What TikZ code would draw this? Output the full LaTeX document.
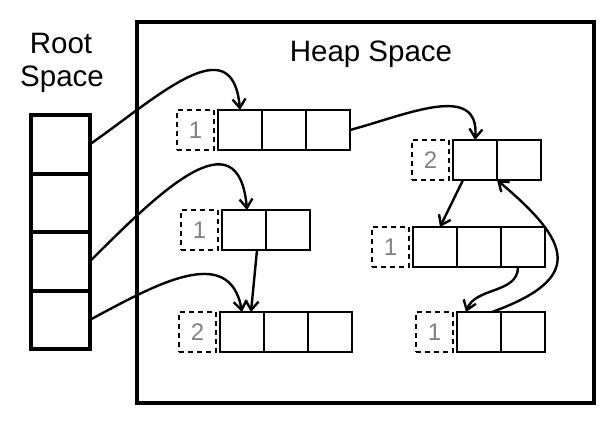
\documentclass[tikz,border=0pt]{standalone}
\usepackage{fontspec}
\setmainfont{Liberation Sans}
\usetikzlibrary{arrows.meta,positioning}
\definecolor{countgray}{RGB}{128,128,128}
\tikzset{
  heapbox/.style={rectangle, draw, line width=4pt, minimum width=457pt, minimum height=381pt,
                  inner sep=0pt, outer sep=0pt},
  rcell/.style ={rectangle, draw, line width=4pt, minimum width=59pt, minimum height=58.5pt,
                 inner sep=0pt, outer sep=0pt},
  hcell/.style ={rectangle, draw, line width=2.6pt, minimum width=44pt, minimum height=40pt,
                 inner sep=0pt, outer sep=0pt},
  hcount/.style={rectangle, draw, dash pattern=on 5pt off 4pt, line width=2pt,
                 minimum width=37pt, minimum height=40pt, inner sep=0pt, outer sep=0pt,
                 text=countgray, font=\fontsize{24}{24}\selectfont},
  htitle/.style={font=\fontsize{29.5}{30}\selectfont, anchor=base, inner sep=0pt},
  gptr/.style  ={-{Straight Barb[length=9pt,width=13pt]}, line width=2.4pt, line cap=round},
}
\begin{document}
\begin{tikzpicture}[x=1pt,y=-1pt]
\useasboundingbox (0,0) rectangle (612,426);
\node[heapbox] (heap) at (365.5,212.5) {};
\node[htitle] (heaptxt) at (371,61) {Heap Space};
\node[htitle] (roottxt) at (61,53) {Root};
\node[htitle] (spacetxt) at (62,86) {Space};
\node[rcell] (r1) at (60.5,144.25) {};
\node[rcell, below=0pt of r1] (r2) {};
\node[rcell, below=0pt of r2] (r3) {};
\node[rcell, below=0pt of r3] (r4) {};
\node[hcell] (a1) at (240,130) {};
\node[hcell, right=0pt of a1] (a2) {};
\node[hcell, right=0pt of a2] (a3) {};
\node[hcount, left=4pt of a1] (ac) {1};
\node[hcell] (b1) at (475,160) {};
\node[hcell, right=0pt of b1] (b2) {};
\node[hcount, left=4pt of b1] (bc) {2};
\node[hcell] (c1) at (244,230) {};
\node[hcell, right=0pt of c1] (c2) {};
\node[hcount, left=4pt of c1] (cc) {1};
\node[hcell] (d1) at (435,247) {};
\node[hcell, right=0pt of d1] (d2) {};
\node[hcell, right=0pt of d2] (d3) {};
\node[hcount, left=4pt of d1] (dc) {1};
\node[hcell] (e1) at (242,332) {};
\node[hcell, right=0pt of e1] (e2) {};
\node[hcell, right=0pt of e2] (e3) {};
\node[hcount, left=4pt of e1] (ec) {2};
\node[hcell] (f1) at (479,332) {};
\node[hcell, right=0pt of f1] (f2) {};
\node[hcount, left=4pt of f1] (fc) {1};
\draw[gptr] (r1.east) to[out=35,in=95,looseness=1.4] (a1.north);
\draw[gptr] (r3.east) to[out=45,in=95,looseness=1.5] ([xshift=3pt]c1.north);
\draw[gptr] (r4.east) to[out=28,in=100,looseness=1.2] (e1.north);
\draw[gptr] ([xshift=13pt]c1.south) -- ([xshift=9pt]e1.north);
\draw[gptr] (a3.east) to[out=15,in=85,looseness=1.2] (b1.north);
\draw[gptr] ([xshift=-12pt]b1.south) -- ([xshift=5pt]d1.north);
\draw[gptr] ([xshift=-5pt]d3.south) to[out=-90,in=70] ([xshift=-13pt]f1.north);
\draw[gptr] ([xshift=13pt]f1.north) to[out=20,in=-40,looseness=1.9] (b2.south west);
\end{tikzpicture}
\end{document}
